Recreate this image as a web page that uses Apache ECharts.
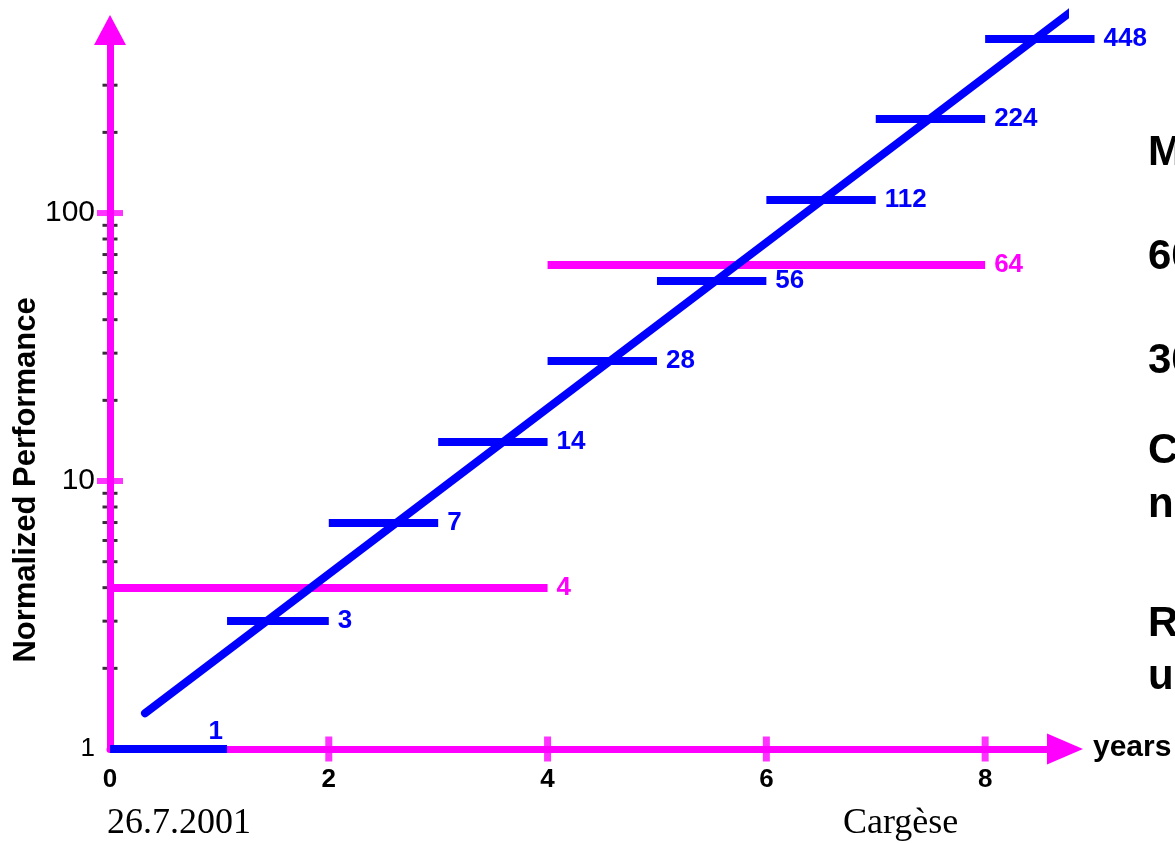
<!DOCTYPE html>
<html><head><meta charset="utf-8">
<script src="https://cdn.jsdelivr.net/npm/echarts@6/dist/echarts.min.js"></script>
<style>html,body{margin:0;padding:0;background:#fff;overflow:hidden}#c{width:1175px;height:843px}</style>
</head><body><div id="c"></div>
<script>
// ---- data ----
const blueLevels = [1, 3, 7, 14, 28, 56, 112, 224, 448];
const blueStart  = [0, 1.07, 2, 3, 4, 5, 6, 7, 8];
const blueEnd    = [1.07, 2, 3, 4, 5, 6, 7, 8, 9];
const magentaLevels = [4, 64];
const magentaStart  = [0, 4];
const magentaEnd    = [4, 8];
const trendX = [0.32, 8.78];
const trendY = [1.36, 562];
const xTickLabels = [0, 2, 4, 6, 8];
const xMajorTicks = [2, 4, 6, 8];
const yTickLabels = [1, 10, 100];
const yMajorTicks = [10, 100];
const yMinorTicks = [2, 3, 4, 5, 6, 7, 8, 9, 20, 30, 40, 50, 60, 70, 80, 90, 200, 300];
const sideNotes = ['M', '60', '30', 'C', 'ne', 'R', 'us'];
const axisTitle = 'Normalized Performance';
const xUnit = 'years';
const footerLeft = '26.7.2001';
const footerRight = 'Cargèse';

// ---- styling ----
const BLUE = '#0000FF', MAG = '#FF00FF';
const SANS = '"Liberation Sans", Arial, sans-serif';
const SERIF = '"Liberation Serif", "Times New Roman", serif';
const X_MAX = 8.73, Y_MAX = 482;

const chart = echarts.init(document.getElementById('c'), null, {renderer: 'canvas'});

const labelStyle = (color) => ({
  show: true, position: 'end', distance: 9, formatter: '{c}',
  color: color, fontSize: 26, fontWeight: 'bold', fontFamily: SANS
});

const blueData = blueLevels.map((v, i) => {
  const d = {value: v, coords: [[blueStart[i], v], [blueEnd[i], v]]};
  if (i === 0) d.label = {position: 'insideEndTop', distance: 4};
  return d;
});
const magData = magentaLevels.map((v, i) => ({value: v, coords: [[magentaStart[i], v], [magentaEnd[i], v]]}));

const notesY = [153, 257, 361, 451, 505, 624, 677];

const option = {
  animation: false,
  backgroundColor: '#fff',
  grid: {left: 110, right: 110, top: 30, bottom: 94, containLabel: false, outerBoundsMode: 'none'},
  xAxis: {
    type: 'value', min: 0, max: X_MAX, interval: 2, z: 0,
    axisLine: {show: true, lineStyle: {color: MAG, width: 7}, symbol: ['none', 'triangle'], symbolSize: [31, 36]},
    axisTick: {show: false}, splitLine: {show: false},
    axisLabel: {
      margin: 18, color: '#000', fontSize: 26, fontWeight: 'bold', fontFamily: SANS,
      showMaxLabel: false,
      formatter: v => (xTickLabels.indexOf(v) >= 0 ? String(v) : '')
    }
  },
  yAxis: {
    type: 'log', logBase: 10, min: 1, max: Y_MAX, z: 2,
    axisLine: {show: true, lineStyle: {color: MAG, width: 7}, symbol: ['none', 'triangle'], symbolSize: [32, 30]},
    axisTick: {show: false}, splitLine: {show: false}, minorTick: {show: false},
    axisLabel: {
      margin: 15, color: '#000', fontFamily: SANS, showMaxLabel: false,
      formatter: v => {
        const r = Math.round(v);
        if (Math.abs(v - r) > 1e-6 || yTickLabels.indexOf(r) < 0) return '';
        return r === 1 ? '{s|1}' : '{b|' + r + '}';
      },
      rich: {
        s: {fontSize: 26, color: '#000', fontFamily: SANS},
        b: {fontSize: 30, color: '#000', fontFamily: SANS}
      }
    }
  },
  series: [
    { // minor ticks on y axis
      type: 'scatter', z: 1, silent: true, clip: false,
      symbol: 'rect', symbolSize: [15, 3], itemStyle: {color: '#000'},
      data: yMinorTicks.map(v => [0, v])
    },
    { // major ticks on y axis
      type: 'scatter', z: 3, silent: true, clip: false,
      symbol: 'rect', symbolSize: [26, 6], itemStyle: {color: MAG},
      data: yMajorTicks.map(v => [0, v])
    },
    { // major ticks on x axis
      type: 'scatter', z: 3, silent: true, clip: false,
      symbol: 'rect', symbolSize: [7, 25], itemStyle: {color: MAG},
      data: xMajorTicks.map(v => [v, 1])
    },
    {
      type: 'lines', coordinateSystem: 'cartesian2d', z: 3, silent: true, clip: false,
      lineStyle: {color: MAG, width: 8, opacity: 1, cap: 'butt'},
      label: labelStyle(MAG),
      data: magData
    },
    {
      type: 'lines', coordinateSystem: 'cartesian2d', z: 4, silent: true, clip: false,
      lineStyle: {color: BLUE, width: 8, opacity: 1, cap: 'butt'},
      label: labelStyle(BLUE),
      data: blueData
    },
    {
      type: 'line', z: 5, silent: true, clip: false, symbol: 'none',
      lineStyle: {color: BLUE, width: 8, cap: 'round'},
      data: trendX.map((x, i) => [x, trendY[i]])
    }
  ],
  graphic: [
    {type: 'text', x: 26, y: 480, rotation: Math.PI / 2, silent: true,
      style: {text: axisTitle, fill: '#000', font: 'bold 31px ' + SANS, align: 'center', verticalAlign: 'middle'}},
    {type: 'text', x: 1093, y: 748, silent: true,
      style: {text: xUnit, fill: '#000', font: 'bold 30px ' + SANS, align: 'left', verticalAlign: 'middle'}},
    {type: 'text', x: 107, y: 824, silent: true,
      style: {text: footerLeft, fill: '#000', font: '36px ' + SERIF, align: 'left', verticalAlign: 'middle'}},
    {type: 'text', x: 843, y: 824, silent: true,
      style: {text: footerRight, fill: '#000', font: '36px ' + SERIF, align: 'left', verticalAlign: 'middle'}}
  ].concat(sideNotes.map((t, i) => ({
    type: 'text', x: 1148, y: notesY[i], silent: true,
    style: {text: t, fill: '#000', font: 'bold 42px ' + SANS, align: 'left', verticalAlign: 'middle'}
  })))
};
chart.setOption(option);
</script></body></html>
